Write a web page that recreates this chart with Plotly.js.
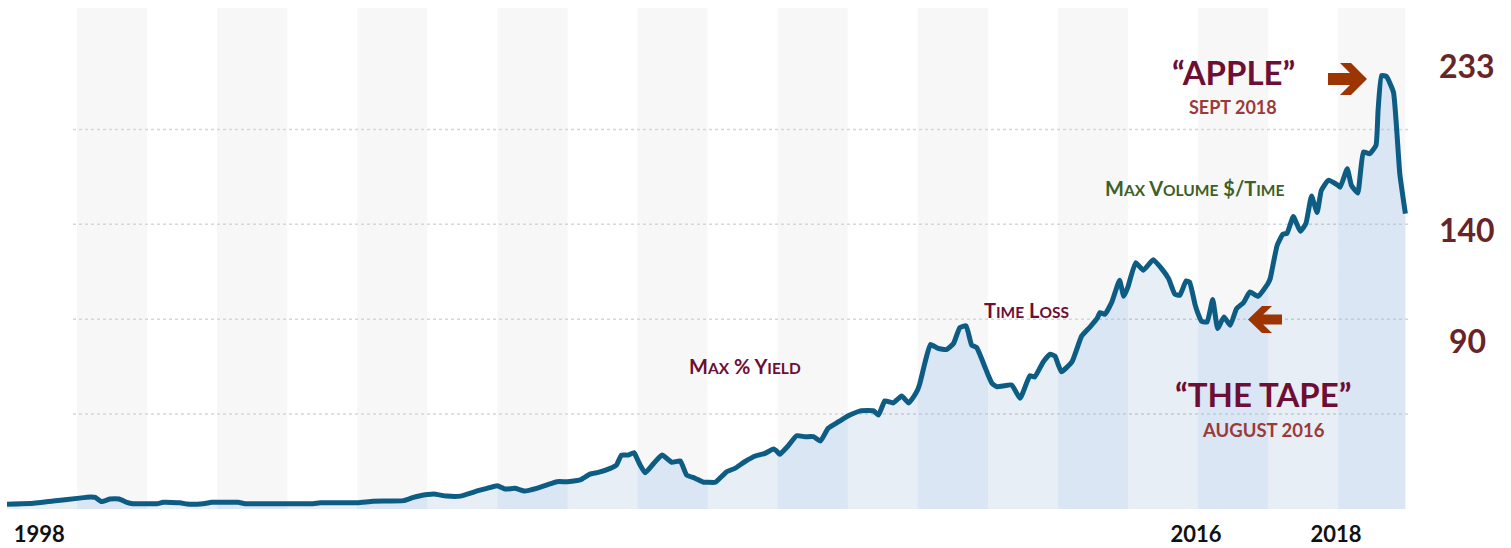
<!DOCTYPE html>
<html>
<head>
<meta charset="utf-8">
<script src="https://cdn.plot.ly/plotly-3.0.1.min.js"></script>
<style>
  html, body { margin: 0; padding: 0; background: #ffffff; }
  #chart { width: 1511px; height: 548px; }
</style>
</head>
<body>
<div id="chart"></div>
<script>
// ---- Data (decimal year, price) ----
const years = [
  1999.00, 1999.38, 1999.66, 2000.00, 2000.19, 2000.26, 2000.35, 2000.47, 2000.60, 2000.71, 2000.80,
  2001.00, 2001.14, 2001.23, 2001.47, 2001.57, 2001.80, 2001.92, 2002.00, 2002.30, 2002.40,
  2003.00, 2003.37, 2003.47, 2004.00, 2004.23, 2004.66, 2004.80, 2004.90,
  2005.00, 2005.09, 2005.28, 2005.47, 2005.71, 2005.85,
  2006.00, 2006.11, 2006.25, 2006.39, 2006.56, 2006.70, 2006.85,
  2007.00, 2007.18, 2007.32, 2007.44, 2007.61, 2007.70, 2007.77, 2007.87, 2007.95,
  2008.00, 2008.04, 2008.11, 2008.23, 2008.35, 2008.49, 2008.61, 2008.70, 2008.82, 2008.94,
  2009.00, 2009.11, 2009.27, 2009.39, 2009.53, 2009.68, 2009.82, 2009.94,
  2010.00, 2010.03, 2010.15, 2010.27, 2010.39, 2010.51, 2010.61, 2010.72, 2010.87,
  2011.00, 2011.03, 2011.18, 2011.37, 2011.44, 2011.53, 2011.65, 2011.77, 2011.87, 2011.94,
  2012.00, 2012.03, 2012.10, 2012.18, 2012.29, 2012.41, 2012.51, 2012.60, 2012.69, 2012.77, 2012.84, 2012.93,
  2013.00, 2013.06, 2013.13, 2013.34, 2013.46, 2013.60, 2013.67, 2013.79, 2013.89, 2013.96,
  2014.00, 2014.05, 2014.20, 2014.34, 2014.46, 2014.56, 2014.60, 2014.67, 2014.77, 2014.88, 2014.94,
  2015.00, 2015.02, 2015.11, 2015.22, 2015.36, 2015.48, 2015.58, 2015.67, 2015.74, 2015.83, 2015.88, 2015.96,
  2016.00, 2016.05, 2016.13, 2016.21, 2016.28, 2016.37, 2016.46, 2016.55, 2016.65, 2016.74, 2016.86,
  2017.00, 2017.03, 2017.06, 2017.13, 2017.21, 2017.27, 2017.36, 2017.46, 2017.54, 2017.62, 2017.70, 2017.76, 2017.86,
  2018.00, 2018.03, 2018.13, 2018.19, 2018.28, 2018.36, 2018.45, 2018.54, 2018.57, 2018.62, 2018.69, 2018.79, 2018.84, 2018.88, 2018.96
];
const prices = [
  2.5, 3.0, 4.2, 5.6, 6.3, 6.1, 3.9, 5.3, 5.3, 3.5, 2.8,
  2.8, 2.8, 3.5, 3.3, 2.6, 2.8, 3.5, 3.5, 3.5, 2.8,
  2.8, 2.8, 3.3, 3.3, 4.1, 4.4, 6.1, 7.0,
  7.6, 7.9, 6.8, 6.8, 9.5, 10.9,
  12.3, 10.5, 10.9, 9.5, 10.9, 12.6, 14.4,
  14.4, 15.3, 18.4, 19.3, 21.4, 23.2, 28.4, 28.4, 29.7,
  26.0, 23.0, 19.1, 24.0, 28.4, 24.6, 25.3, 17.9, 16.2, 14.1,
  14.1, 14.1, 19.6, 21.4, 24.9, 27.9, 29.3, 31.6,
  30.0, 28.8, 33.3, 38.6, 38.1, 38.1, 35.8, 42.5, 46.0,
  49.0, 49.5, 51.7, 51.7, 49.5, 57.0, 55.9, 59.6, 55.9, 59.1,
  63.0, 66.2, 76.7, 86.7, 84.6, 84.0, 87.2, 95.6, 96.5, 86.3, 85.1, 77.5,
  71.0, 66.2, 64.4, 65.3, 58.3, 70.2, 69.6, 77.5, 81.6, 80.5,
  76.5, 72.3, 77.5, 91.2, 96.0, 100.4, 103.5, 102.6, 109.1, 120.5, 112.1,
  117.0, 119.6, 129.8, 125.8, 131.4, 126.7, 121.4, 113.2, 112.6, 120.2, 119.5, 107.4,
  103.0, 98.9, 98.6, 110.4, 95.1, 101.2, 96.8, 105.6, 108.8, 114.4, 112.1,
  119.0, 121.4, 126.7, 139.0, 144.8, 145.3, 154.1, 146.4, 150.4, 164.9, 156.2, 167.9, 173.2,
  170.5, 169.6, 179.3, 170.5, 166.5, 188.1, 187.2, 191.6, 210.0, 228.4, 227.9, 219.6, 197.7, 176.7, 155.6
];
const gridValues = [50, 100, 150, 200];
const tickYears = [1999.46, 2015.97, 2017.97];
const tickLabels = ["1998", "2016", "2018"];
const priceLabels = ["233", "140", "90"];

// ---- Layout helpers (pixel -> paper) ----
const W = 1511, H = 548;
const M = { l: 7, r: 101, t: 8, b: 39 };
const PW = W - M.l - M.r, PH = H - M.t - M.b;
const px = (x) => (x - M.l) / PW;
const py = (y) => (H - M.b - y) / PH;

const FONT = 'Lato, "Open Sans", "DejaVu Sans", sans-serif';
const MAROON = '#6d0e34';
const BROWN = '#9b3a3a';
const NUMC = '#682527';
const GREEN = '#3e5f27';
const ARROW = '#9c3502';
const LINE = '#0d5c84';

const firstX = years[0], lastX = years[years.length - 1];

// ---- Traces: per-year fills, then the line ----
const traces = [];
for (let yr = Math.floor(firstX); yr < lastX; yr++) {
  const xs = [], ys = [];
  years.forEach((v, i) => { if (v >= yr && v <= yr + 1) { xs.push(v); ys.push(prices[i]); } });
  const even = yr % 2 === 0;
  traces.push({
    x: xs, y: ys, type: 'scatter', mode: 'none', fill: 'tozeroy',
    fillcolor: even ? 'rgba(107,167,237,0.20)' : 'rgba(63,113,180,0.12)',
    line: { shape: 'spline', smoothing: 0.4 },
    hoverinfo: 'skip', showlegend: false
  });
}
traces.push({
  x: years, y: prices, type: 'scatter', mode: 'lines',
  line: { color: LINE, width: 5, shape: 'spline', smoothing: 0.4 },
  hoverinfo: 'skip', showlegend: false
});

// ---- Shapes: year bands, dotted grid, arrows ----
const shapes = [];
for (let yr = Math.ceil(firstX); yr < lastX; yr++) {
  if (yr % 2 !== 0) continue;
  shapes.push({
    type: 'rect', xref: 'x', yref: 'paper', x0: yr, x1: Math.min(yr + 1, lastX), y0: 0, y1: 1,
    fillcolor: '#f7f7f7', line: { width: 0 }, layer: 'below'
  });
}
gridValues.forEach(v => shapes.push({
  type: 'line', xref: 'paper', yref: 'y', x0: px(73), x1: px(1410), y0: v, y1: v,
  line: { color: '#d6d6d6', width: 1.5, dash: 'dot' }, layer: 'below'
}));

function arrowPath(tipX, tipY, dir, len, headLen, headHalf, shaftHalf, thick) {
  const ob = tipX - dir * headLen;
  const ib = tipX - dir * (headLen + thick);
  const meet = ib + dir * (headHalf - shaftHalf) * (headLen / headHalf);
  const tail = tipX - dir * len;
  const pts = [
    [tail, tipY - shaftHalf], [meet, tipY - shaftHalf], [ib, tipY - headHalf], [ob, tipY - headHalf],
    [tipX, tipY], [ob, tipY + headHalf], [ib, tipY + headHalf], [meet, tipY + shaftHalf], [tail, tipY + shaftHalf]
  ];
  return 'M' + pts.map(p => px(p[0]).toFixed(5) + ',' + py(p[1]).toFixed(5)).join('L') + 'Z';
}
shapes.push({ type: 'path', xref: 'paper', yref: 'paper', path: arrowPath(1367, 79, 1, 39, 16, 16, 6, 11),
  fillcolor: ARROW, line: { width: 0 }, layer: 'above' });
shapes.push({ type: 'path', xref: 'paper', yref: 'paper', path: arrowPath(1248, 319.5, -1, 34, 14, 13.5, 5, 10),
  fillcolor: ARROW, line: { width: 0 }, layer: 'above' });

// ---- Annotations ----
function smallCaps(text, small) {
  let out = '', buf = '';
  const flush = () => { if (buf) { out += '<span style="font-size:' + small + 'px">' + buf.toUpperCase() + '</span>'; buf = ''; } };
  for (const ch of text) {
    if (ch >= 'a' && ch <= 'z') buf += ch;
    else { flush(); out += ch; }
  }
  flush();
  return out;
}
function ann(text, x, y, size, color) {
  return {
    text: text, xref: 'paper', yref: 'paper', x: px(x), y: py(y),
    xanchor: 'center', yanchor: 'middle', showarrow: false,
    font: { family: FONT, size: size, color: color, weight: 700 }
  };
}
const annotations = [
  ann('\u201CAPPLE\u201D', 1233, 72, 33, MAROON),
  ann('SEPT 2018', 1233, 107, 18, BROWN),
  ann('\u201CTHE TAPE\u201D', 1263, 394, 33, MAROON),
  ann('AUGUST 2016', 1263, 430, 18.5, BROWN),
  ann(smallCaps('Max % Yield', 15.5), 745, 366, 20, MAROON),
  ann(smallCaps('Time Loss', 15.5), 1026, 310, 20, MAROON),
  ann(smallCaps('Max Volume $/Time', 15.5), 1194, 188, 20, GREEN),
  ann(priceLabels[0], 1467, 66, 32, NUMC),
  ann(priceLabels[1], 1467, 229, 32, NUMC),
  ann(priceLabels[2], 1467, 340, 32, NUMC)
];

const layout = {
  width: W, height: H, margin: M,
  paper_bgcolor: '#ffffff', plot_bgcolor: '#ffffff',
  showlegend: false,
  xaxis: {
    range: [firstX, firstX + PW / 70.06], showgrid: false, zeroline: false, showline: false,
    tickmode: 'array', tickvals: tickYears, ticktext: tickLabels, ticks: '',
    ticklabelstandoff: 10,
    tickfont: { family: FONT, size: 22, color: '#111111', weight: 700 }, fixedrange: true
  },
  yaxis: { range: [0, 264], showgrid: false, zeroline: false, showline: false, showticklabels: false, ticks: '', fixedrange: true },
  shapes: shapes,
  annotations: annotations
};

Plotly.newPlot('chart', traces, layout, { displayModeBar: false, staticPlot: true });
</script>
</body>
</html>
